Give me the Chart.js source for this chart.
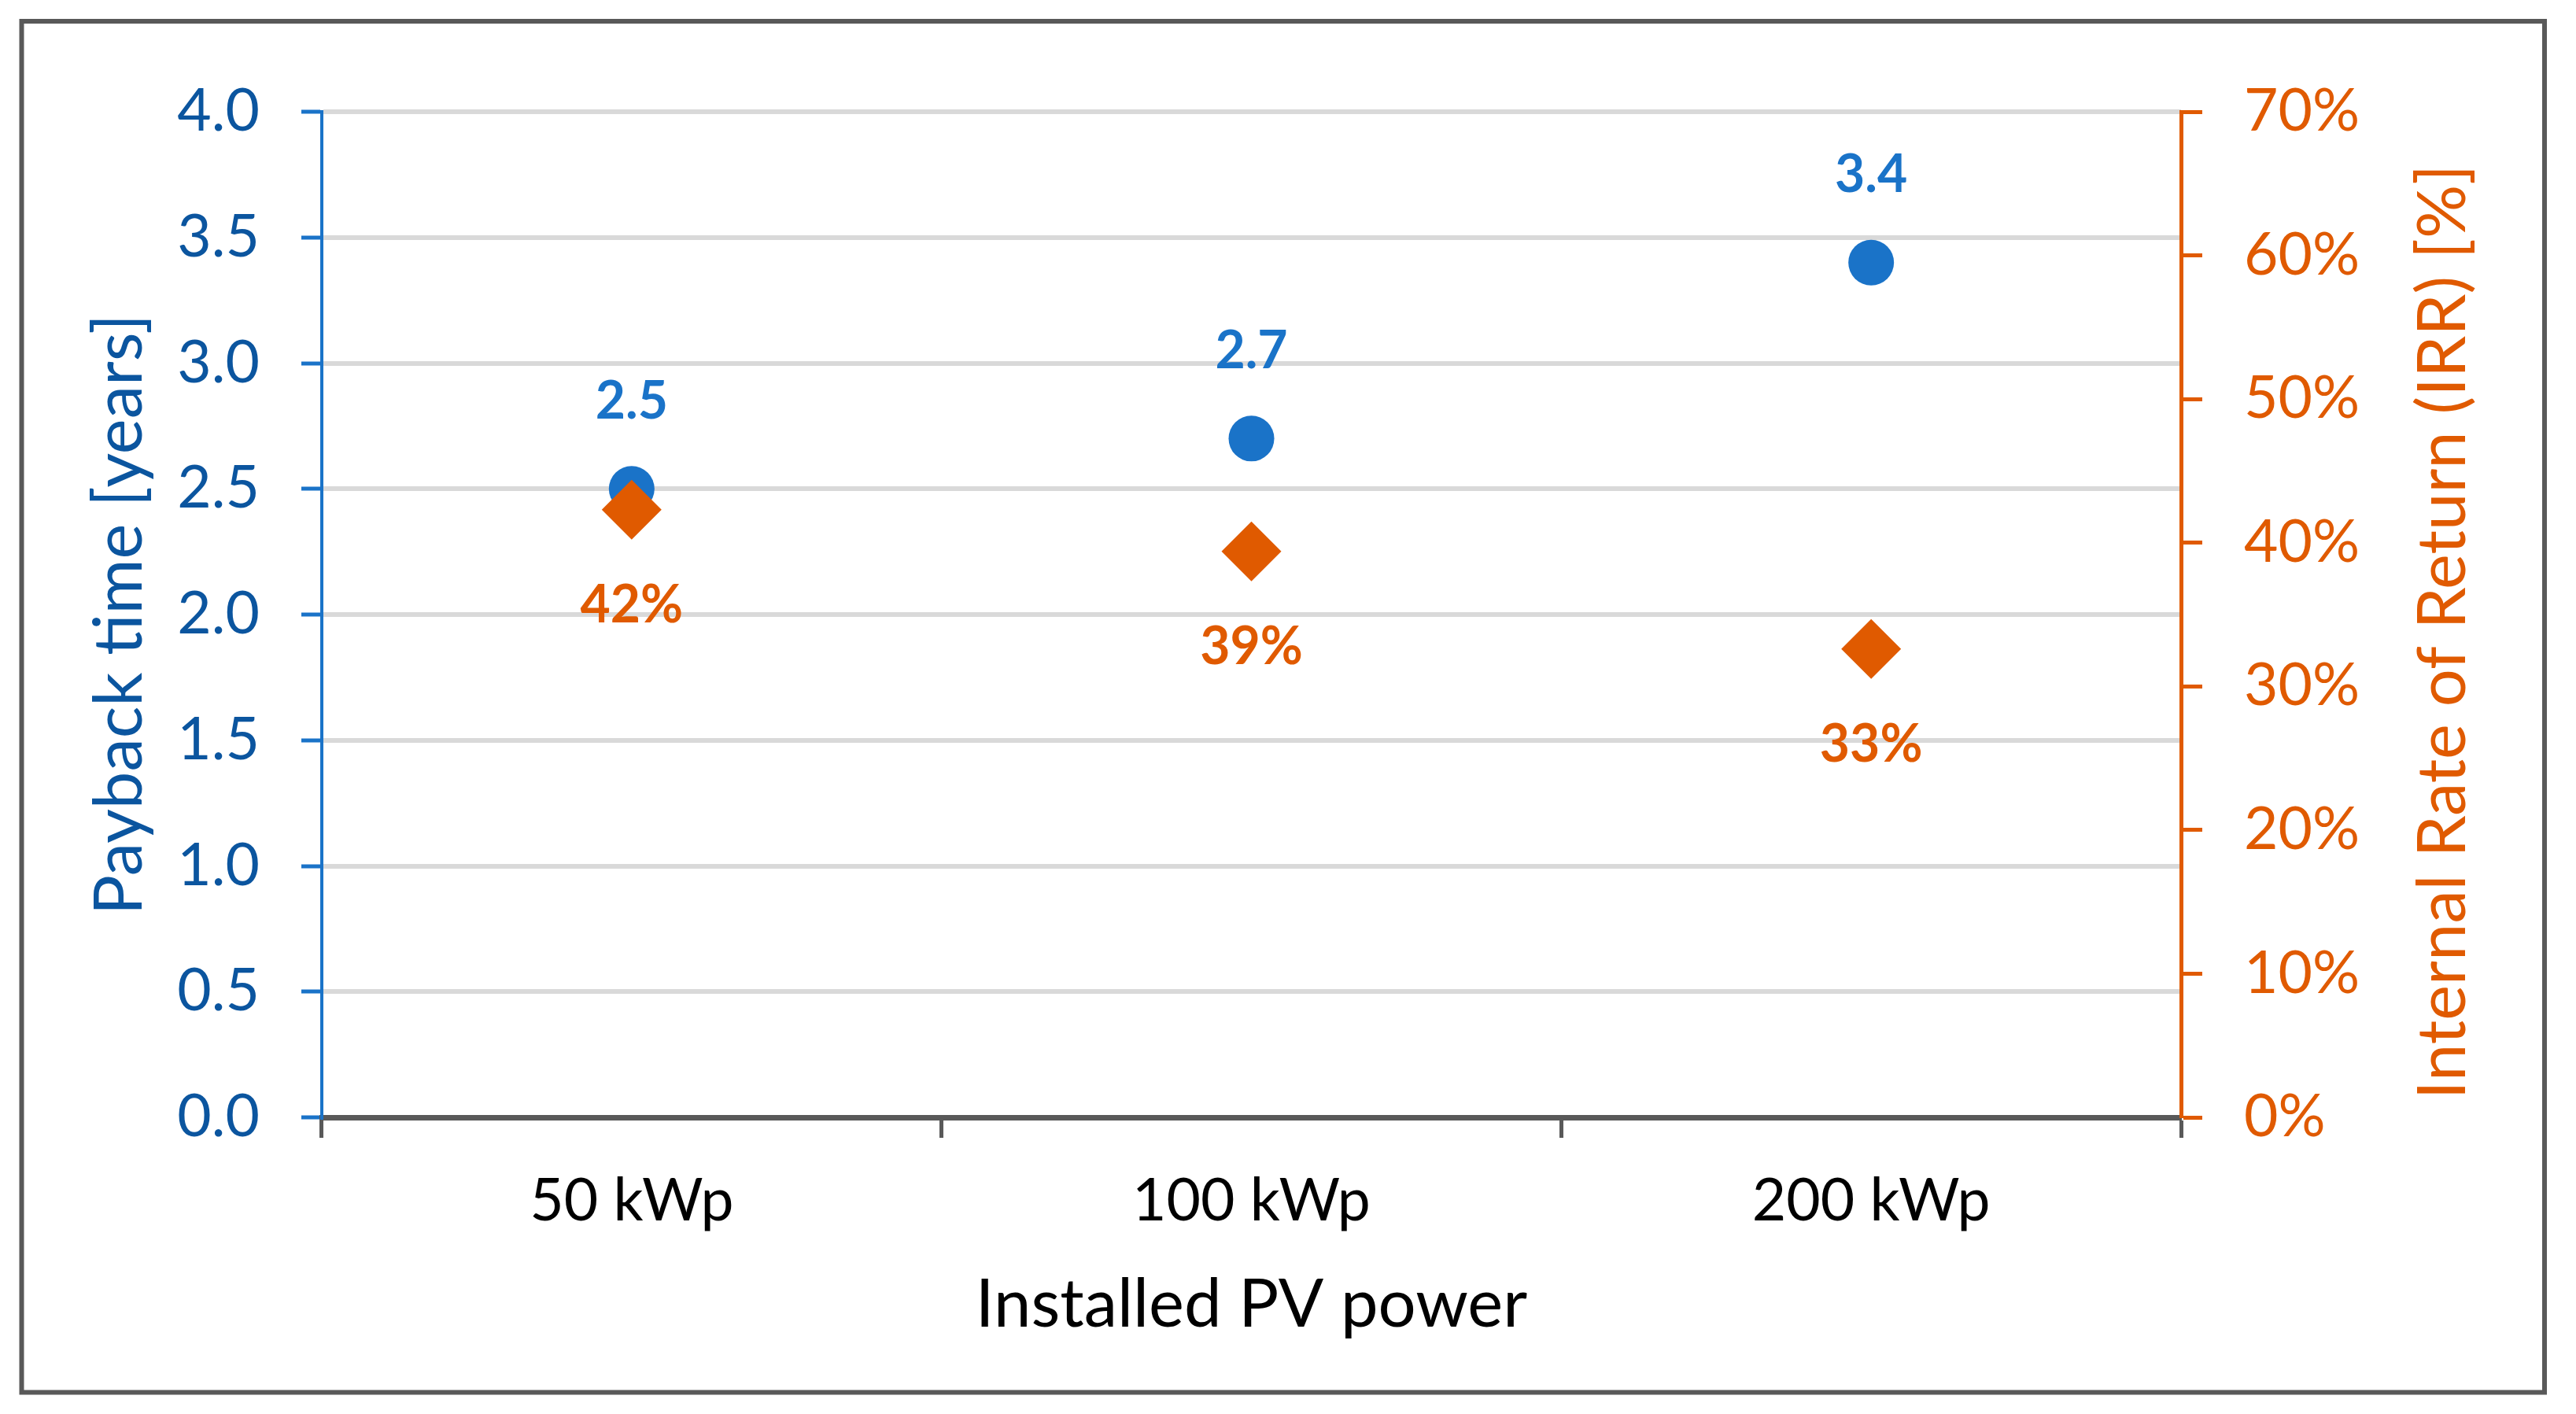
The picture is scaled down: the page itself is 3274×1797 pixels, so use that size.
<!DOCTYPE html>
<html>
<head>
<meta charset="utf-8">
<script src="https://cdn.jsdelivr.net/npm/chart.js@4/dist/chart.umd.min.js"></script>
<style>
  html, body { margin: 0; padding: 0; background: #fff; }
  canvas { display: block; }
</style>
</head>
<body>
<canvas id="payback" width="3274" height="1797"></canvas>
<script>
// Payback time and IRR vs. installed PV power

const categories = ['50 kWp', '100 kWp', '200 kWp'];
const paybackYears = [2.5, 2.7, 3.4];
const irrPercent = [42.3, 39.4, 32.6];
const leftTicks = [0, 0.5, 1, 1.5, 2, 2.5, 3, 3.5, 4];
const rightTicks = [0, 10, 20, 30, 40, 50, 60, 70];
const rightTitle = 'Internal Rate of Return (IRR) [%]';

const BLUE = '#1a73c8';
const BLUE_TEXT = '#0b559f';
const ORANGE = '#e05a00';
const GREY = '#595959';
const FONT = 'Lato, "Open Sans", sans-serif';

// frame around the whole figure
const framePlugin = {
  id: 'frame',
  beforeDraw(chart) {
    const ctx = chart.ctx;
    ctx.save();
    ctx.fillStyle = '#fff';
    ctx.fillRect(0, 0, chart.width, chart.height);
    ctx.strokeStyle = GREY;
    ctx.lineWidth = 6;
    ctx.strokeRect(27.5, 27, 3206.5, 1742.5);
    ctx.restore();
  },
  // right axis title reads bottom-to-top like the left one
  afterDraw(chart) {
    const s = chart.scales.y1;
    const ctx = chart.ctx;
    ctx.save();
    ctx.translate(s.right - 168, (s.top + s.bottom) / 2 + 22);
    ctx.rotate(-Math.PI / 2);
    ctx.font = '85px ' + FONT;
    ctx.fillStyle = ORANGE;
    ctx.textAlign = 'center';
    ctx.textBaseline = 'middle';
    ctx.fillText(rightTitle, 0, 0);
    ctx.restore();
  }
};

// value labels above the circles and below the diamonds
const valueLabels = {
  id: 'valueLabels',
  afterDatasetsDraw(chart) {
    const ctx = chart.ctx;
    ctx.save();
    ctx.font = 'bold 66px ' + FONT;
    ctx.textAlign = 'center';
    ctx.textBaseline = 'middle';
    chart.data.datasets.forEach((ds, i) => {
      const meta = chart.getDatasetMeta(i);
      meta.data.forEach((pt, j) => {
        const v = ds.data[j];
        if (ds.yAxisID === 'y') {
          ctx.fillStyle = BLUE;
          ctx.fillText(v.toFixed(1), pt.x, pt.y - 111);
        } else {
          ctx.fillStyle = ORANGE;
          ctx.fillText(Math.round(v) + '%', pt.x, pt.y + 122);
        }
      });
    });
    ctx.restore();
  }
};

new Chart(document.getElementById('payback'), {
  type: 'line',
  data: {
    labels: categories,
    datasets: [{
      label: 'Payback time',
      data: paybackYears,
      yAxisID: 'y',
      showLine: false,
      pointStyle: 'circle',
      pointRadius: 29,
      pointBackgroundColor: BLUE,
      pointBorderWidth: 0,
      order: 1
    }, {
      label: 'IRR',
      data: irrPercent,
      yAxisID: 'y1',
      showLine: false,
      pointStyle: 'rectRot',
      pointRadius: 38,
      pointBackgroundColor: ORANGE,
      pointBorderWidth: 0,
      order: 0
    }]
  },
  options: {
    responsive: false,
    devicePixelRatio: 1,
    animation: false,
    events: [],
    layout: { padding: { top: 142, left: 0, right: 0, bottom: 0 } },
    plugins: { legend: { display: false }, tooltip: { enabled: false } },
    scales: {
      x: {
        type: 'category',
        offset: true,
        afterFit: s => { s.height = 377; },
        grid: {
          offset: true,
          drawOnChartArea: false,
          tickLength: 26,
          tickColor: GREY,
          tickWidth: 5
        },
        border: { color: GREY, width: 7 },
        ticks: { color: '#000', padding: 36, font: { family: FONT, size: 75 } },
        title: {
          display: true,
          text: 'Installed PV power',
          color: '#000',
          font: { family: FONT, size: 85 },
          padding: { bottom: 87 }
        }
      },
      y: {
        position: 'left',
        min: 0,
        max: 4,
        afterFit: s => { s.width = 409; },
        afterBuildTicks: s => { s.ticks = leftTicks.map(v => ({ value: v })); },
        grid: {
          color: '#d9d9d9',
          lineWidth: 6,
          tickLength: 26,
          tickColor: BLUE,
          tickWidth: 5
        },
        border: { color: BLUE, width: 4 },
        ticks: {
          color: BLUE_TEXT,
          padding: 53,
          font: { family: FONT, size: 75 },
          callback: v => v.toFixed(1)
        },
        title: {
          display: true,
          text: 'Payback time [years]',
          color: BLUE_TEXT,
          font: { family: FONT, size: 85 },
          padding: { top: 102 }
        }
      },
      y1: {
        position: 'right',
        min: 0,
        max: 70,
        afterFit: s => { s.width = 502; },
        afterBuildTicks: s => { s.ticks = rightTicks.map(v => ({ value: v })); },
        grid: {
          drawOnChartArea: false,
          tickLength: 27,
          tickColor: ORANGE,
          tickWidth: 5
        },
        border: { color: ORANGE, width: 5 },
        ticks: {
          color: ORANGE,
          padding: 53,
          font: { family: FONT, size: 75 },
          callback: v => v + '%'
        }
      }
    }
  },
  plugins: [framePlugin, valueLabels]
});
</script>
</body>
</html>
